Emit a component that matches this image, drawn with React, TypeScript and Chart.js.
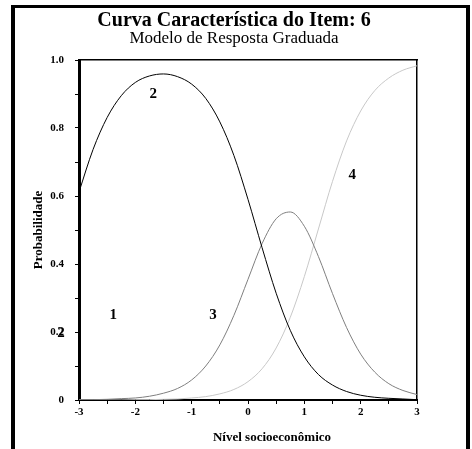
import React, { useEffect, useRef } from 'react';
import { Chart, registerables } from 'chart.js';

Chart.register(...registerables);

// Ability levels (x values)
const theta = [-3, -2.75, -2.5, -2.25, -2, -1.75, -1.5, -1.25, -1, -0.75, -0.5, -0.25, 0, 0.25, 0.5, 0.75, 1, 1.25, 1.5, 1.75, 2, 2.25, 2.5, 2.75, 3];

// Category response probabilities
const cat2 = [0.612, 0.737, 0.831, 0.895, 0.934, 0.953, 0.959, 0.951, 0.929, 0.887, 0.818, 0.719, 0.590, 0.448, 0.314, 0.205, 0.127, 0.075, 0.044, 0.025, 0.014, 0.008, 0.005, 0.003, 0.001];
const cat3 = [0.001, 0.001, 0.002, 0.004, 0.006, 0.011, 0.020, 0.034, 0.059, 0.100, 0.162, 0.249, 0.355, 0.460, 0.533, 0.553, 0.511, 0.422, 0.313, 0.213, 0.135, 0.082, 0.048, 0.028, 0.016];
const cat4 = [0.000, 0.000, 0.000, 0.000, 0.001, 0.001, 0.002, 0.003, 0.006, 0.010, 0.018, 0.031, 0.054, 0.092, 0.153, 0.243, 0.363, 0.503, 0.643, 0.762, 0.850, 0.910, 0.947, 0.970, 0.983];

// Curve labels (data coordinates)
const labelTexts = ['1', '2', '3', '4', '2'];
const labelX = [-2.39, -1.68, -0.62, 1.85, -3.32];
const labelY = [0.25, 0.90, 0.25, 0.66, 0.197];

const titleText = 'Curva Característica do Item: 6';
const subtitleText = 'Modelo de Resposta Graduada';
const xTitle = 'Nível socioeconômico';
const yTitle = 'Probabilidade';

const SERIF = '"Liberation Serif", "Times New Roman", serif';

const toPoints = (ys: number[]) => theta.map((x, i) => ({ x, y: ys[i] }));

const overlay = {
  id: 'overlay',
  afterDraw(chart: any) {
    const { ctx, chartArea, scales } = chart;
    ctx.save();
    ctx.fillStyle = '#000';
    ctx.textAlign = 'center';
    ctx.textBaseline = 'middle';
    ctx.font = `bold 15px ${SERIF}`;
    labelTexts.forEach((t, i) => {
      ctx.fillText(t, scales.x.getPixelForValue(labelX[i]), scales.y.getPixelForValue(labelY[i]));
    });
    ctx.font = `bold 13px ${SERIF}`;
    ctx.fillText(xTitle, (chartArea.left + chartArea.right) / 2 + 24, chartArea.bottom + 38);
    ctx.restore();
  },
};

export default function App() {
  const ref = useRef<HTMLCanvasElement | null>(null);

  useEffect(() => {
    if (!ref.current) return;
    const tickFont = { family: SERIF, size: 11, weight: 'bold' as const };
    const chart = new Chart(ref.current, {
      type: 'line',
      data: {
        datasets: [
          { label: '2', data: toPoints(cat2), borderColor: '#000000', borderWidth: 1, pointRadius: 0, cubicInterpolationMode: 'monotone', fill: false },
          { label: '3', data: toPoints(cat3), borderColor: '#7f7f7f', borderWidth: 1, pointRadius: 0, cubicInterpolationMode: 'monotone', fill: false },
          { label: '4', data: toPoints(cat4), borderColor: '#c8c8c8', borderWidth: 1, pointRadius: 0, cubicInterpolationMode: 'monotone', fill: false },
        ],
      },
      options: {
        animation: false,
        responsive: false,
        devicePixelRatio: 1,
        layout: { padding: { left: 0, right: 13, top: 0, bottom: 0 } },
        plugins: {
          legend: { display: false },
          tooltip: { enabled: false },
          title: {
            display: true,
            text: titleText,
            color: '#000',
            font: { family: SERIF, size: 20, weight: 'bold', lineHeight: 1 },
            padding: { top: 3, bottom: 0 },
          },
          subtitle: {
            display: true,
            text: subtitleText,
            color: '#000',
            font: { family: SERIF, size: 17, weight: 'normal', lineHeight: 1 },
            padding: { top: -1, bottom: 0 },
          },
        },
        scales: {
          x: {
            type: 'linear',
            position: 'bottom',
            min: -3,
            max: 3,
            afterFit: (s: any) => { s.height = 49; },
            ticks: {
              stepSize: 0.5,
              autoSkip: false,
              maxRotation: 0,
              padding: 2,
              color: '#000',
              font: tickFont,
              callback: (v: any) => (Number.isInteger(Number(v)) ? String(Number(v)) : ''),
            },
            grid: { display: true, drawOnChartArea: false, drawTicks: true, tickLength: 4, color: '#000', lineWidth: 1 },
            border: { display: true, color: '#000', width: 2 },
          },
          y: {
            type: 'linear',
            position: 'left',
            min: 0,
            max: 1,
            afterFit: (s: any) => { s.width = 64; },
            ticks: {
              stepSize: 0.1,
              autoSkip: false,
              padding: 11,
              color: '#000',
              font: tickFont,
              callback: (v: any) => {
                const r = Math.round(Number(v) * 10);
                if (r % 2 !== 0) return '';
                return r === 0 ? '0' : (r / 10).toFixed(1);
              },
            },
            title: {
              display: true,
              text: yTitle,
              color: '#000',
              font: { family: SERIF, size: 13, weight: 'bold', lineHeight: 1.2 },
              padding: { top: 16, bottom: 0 },
            },
            grid: { display: true, drawOnChartArea: false, drawTicks: true, tickLength: 4, color: '#000', lineWidth: 1 },
            border: { display: true, color: '#000', width: 3 },
          },
          x2: {
            type: 'linear',
            position: 'top',
            min: -3,
            max: 3,
            afterFit: (s: any) => { s.height = 13; },
            ticks: { display: false },
            grid: { display: false },
            border: { display: true, color: '#000', width: 1.5 },
          },
          y2: {
            type: 'linear',
            position: 'right',
            min: 0,
            max: 1,
            afterFit: (s: any) => { s.width = 36; },
            ticks: { display: false },
            grid: { display: false },
            border: { display: true, color: '#000', width: 1.5 },
          },
        },
      } as any,
      plugins: [overlay],
    });
    return () => chart.destroy();
  }, []);

  return (
    <div
      style={{
        position: 'absolute',
        left: 11,
        top: 5,
        width: 459,
        height: 444,
        boxSizing: 'border-box',
        borderLeft: '4px solid #000',
        borderRight: '4px solid #000',
        borderTop: '3px solid #000',
        background: '#fff',
        overflow: 'hidden',
      }}
    >
      <canvas ref={ref} width={451} height={441} style={{ display: 'block', width: 451, height: 441 }} />
    </div>
  );
}
